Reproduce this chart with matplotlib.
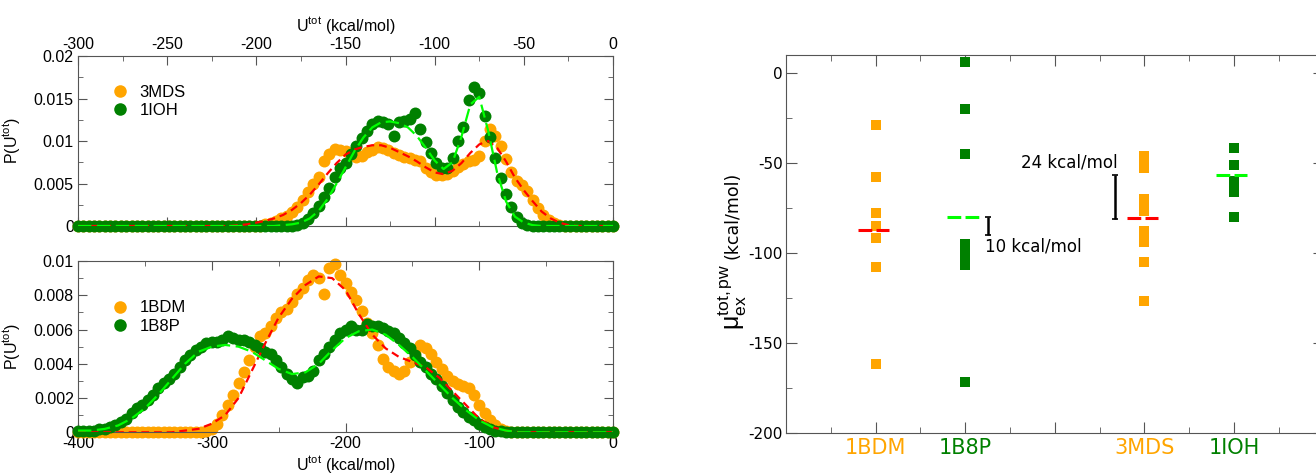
import numpy as np
import matplotlib
matplotlib.use("Agg")
import matplotlib.pyplot as plt
from matplotlib.ticker import MultipleLocator, FormatStrFormatter

plt.rcParams["axes.unicode_minus"] = False
plt.rcParams["mathtext.fontset"] = "custom"
plt.rcParams["mathtext.rm"] = "Liberation Sans"
plt.rcParams["mathtext.it"] = "Liberation Sans:italic"

NARANJA = "#ffa500"
VERDE = "#008000"
LIMA = "#00ff00"
ROJO = "#ff0000"
GRIS = "#555555"

# ---- panel superior: 3MDS / 1IOH (paso 3 kcal/mol) ----
u_sup = np.arange(-300, 1, 3)
ini_3mds = -195
p_3mds = [0.0002, 0.0004, 0.0006, 0.0009, 0.0012, 0.0016, 0.0022, 0.0031, 0.0040,
          0.0049, 0.0058, 0.0076, 0.0085, 0.0091, 0.0090, 0.0088, 0.0083, 0.0081,
          0.0082, 0.0087, 0.0090, 0.0093, 0.0092, 0.0089, 0.0086, 0.0083, 0.0081,
          0.0080, 0.0078, 0.0076, 0.0068, 0.0063, 0.0060, 0.0060, 0.0061, 0.0065,
          0.0069, 0.0073, 0.0076, 0.0078, 0.0082, 0.0100, 0.0114, 0.0106, 0.0094,
          0.0079, 0.0064, 0.0053, 0.0048, 0.0041, 0.0031, 0.0021, 0.0013, 0.0007,
          0.0003, 0.0001, 0.0]
ini_1ioh = -180
p_1ioh = [0.0, 0.0001, 0.0003, 0.0008, 0.0015, 0.0024, 0.0034, 0.0045, 0.0058,
          0.0068, 0.0074, 0.0085, 0.0094, 0.0103, 0.0112, 0.0120, 0.0123, 0.0122,
          0.0120, 0.0106, 0.0122, 0.0124, 0.0126, 0.0133, 0.0114, 0.0099, 0.0086,
          0.0074, 0.0068, 0.0068, 0.0080, 0.0100, 0.0117, 0.0148, 0.0164, 0.0156,
          0.0129, 0.0105, 0.0080, 0.0056, 0.0038, 0.0022, 0.0011, 0.0004, 0.0001, 0.0]

# ajustes (paso 5)
u_fit_sup = np.arange(-300, 1, 5)
ini_fit_3mds = -210
fit_3mds = [0.0001, 0.0002, 0.0004, 0.0006, 0.0009, 0.0013, 0.0019, 0.0027, 0.0037,
            0.0049, 0.0062, 0.0074, 0.0084, 0.0090, 0.0093, 0.0095, 0.0095, 0.0092,
            0.0087, 0.0082, 0.0076, 0.0069, 0.0063, 0.0061, 0.0065, 0.0074, 0.0086,
            0.0096, 0.0100, 0.0092, 0.0076, 0.0057, 0.0042, 0.0029, 0.0017, 0.0009,
            0.0004, 0.0001, 0.0]
ini_fit_1ioh = -190
fit_1ioh = [0.0, 0.0001, 0.0002, 0.0004, 0.0009, 0.0018, 0.0032, 0.0050, 0.0069,
            0.0088, 0.0104, 0.0116, 0.0122, 0.0123, 0.0121, 0.0116, 0.0106, 0.0092,
            0.0077, 0.0067, 0.0075, 0.0105, 0.0143, 0.0152, 0.0112, 0.0063, 0.0029,
            0.0011, 0.0004, 0.0001, 0.0]

# ---- panel inferior: 1BDM / 1B8P (paso 4 kcal/mol) ----
u_inf = np.arange(-400, 1, 4)
ini_1bdm = -304
p_1bdm = [0.0001, 0.0002, 0.0005, 0.0010, 0.0016, 0.0022, 0.0029, 0.0035, 0.0042,
          0.0050, 0.0056, 0.0058, 0.0062, 0.0067, 0.0070, 0.0072, 0.0076, 0.0081,
          0.0084, 0.0089, 0.0092, 0.0090, 0.0081, 0.0096, 0.0098, 0.0092, 0.0087,
          0.0082, 0.0077, 0.0071, 0.0064, 0.0058, 0.0051, 0.0043, 0.0038, 0.0036,
          0.0034, 0.0036, 0.0041, 0.0047, 0.0051, 0.0049, 0.0046, 0.0041, 0.0037,
          0.0033, 0.0030, 0.0028, 0.0027, 0.0026, 0.0022, 0.0016, 0.0011, 0.0007,
          0.0004, 0.0002, 0.0001, 0.0]
ini_1b8p = -400
p_1b8p = [0.0001, 0.0001, 0.0001, 0.0001, 0.0002, 0.0002, 0.0003, 0.0004, 0.0006,
          0.0008, 0.0011, 0.0014, 0.0016, 0.0019, 0.0022, 0.0026, 0.0029, 0.0031,
          0.0034, 0.0038, 0.0042, 0.0045, 0.0048, 0.0050, 0.0052, 0.0053, 0.0053,
          0.0054, 0.0056, 0.0055, 0.0054, 0.0054, 0.0053, 0.0051, 0.0049, 0.0047,
          0.0046, 0.0042, 0.0038, 0.0034, 0.0031, 0.0029, 0.0032, 0.0033, 0.0036,
          0.0042, 0.0046, 0.0050, 0.0054, 0.0058, 0.0060, 0.0062, 0.0060, 0.0060,
          0.0063, 0.0062, 0.0062, 0.0061, 0.0059, 0.0058, 0.0055, 0.0052, 0.0049,
          0.0045, 0.0041, 0.0038, 0.0034, 0.0031, 0.0027, 0.0023, 0.0019, 0.0015,
          0.0012, 0.0009, 0.0007, 0.0005, 0.0003, 0.0002, 0.0001, 0.0001, 0.0]

# ajustes (paso 10)
u_fit_inf = np.arange(-400, 1, 10)
ini_fit_1bdm = -330
fit_1bdm = [0.0, 0.0001, 0.0002, 0.0005, 0.0010, 0.0020, 0.0036, 0.0052, 0.0067,
            0.0078, 0.0086, 0.0091, 0.0090, 0.0083, 0.0069, 0.0057, 0.0049, 0.0044,
            0.0041, 0.0038, 0.0032, 0.0024, 0.0016, 0.0008, 0.0003, 0.0001, 0.0]
ini_fit_1b8p = -400
fit_1b8p = [0.0001, 0.0001, 0.0002, 0.0004, 0.0008, 0.0014, 0.0022, 0.0031, 0.0040,
            0.0047, 0.0050, 0.0051, 0.0050, 0.0047, 0.0042, 0.0037, 0.0034, 0.0035,
            0.0040, 0.0048, 0.0055, 0.0059, 0.0060, 0.0057, 0.0051, 0.0044, 0.0036,
            0.0028, 0.0020, 0.0013, 0.0007, 0.0003, 0.0001, 0.0]

# ---- panel derecho: mu_ex por sistema ----
cat_pos = [2, 4, 8, 10]
cat_nombres = ["1BDM", "1B8P", "3MDS", "1IOH"]
cat_colores = [NARANJA, VERDE, NARANJA, VERDE]
mu_1bdm = [-29, -58, -78, -85, -92, -108, -162]
mu_1b8p = [6, -20, -45, -95, -99, -103, -107, -172]
mu_3mds = [-46, -50, -53, -70, -74, -77, -88, -92, -94, -105, -127]
mu_1ioh = [-42, -51, -60, -63, -66, -80]
medias = [-87.5, -80, -80.5, -57]
medias_colores = [ROJO, LIMA, ROJO, LIMA]
difs = [(4.5, -80, -90, "10 kcal/mol"), (7.35, -57, -81, "24 kcal/mol")]


def rellenar(rejilla, inicio, valores):
    y = np.zeros(len(rejilla))
    i = int(np.argmin(np.abs(rejilla - inicio)))
    y[i:i + len(valores)] = valores
    return y


def estilo_izq(ax):
    for s in ax.spines.values():
        s.set_color(GRIS)
    ax.tick_params(which="both", direction="in", top=True, right=True,
                   color=GRIS, labelsize=11.5, pad=3)
    ax.tick_params(which="major", length=6.5)
    ax.tick_params(which="minor", length=3.5)
    ax.xaxis.set_major_formatter(FormatStrFormatter("%g"))
    ax.yaxis.set_major_formatter(FormatStrFormatter("%g"))


fig = plt.figure(figsize=(13.16, 4.75), dpi=100)
fuente = "Liberation Sans"
ms_pt = 8.6

# panel superior
ax1 = fig.add_axes([0.0593, 0.5242, 0.4065, 0.3579])
ax1.plot(u_sup, rellenar(u_sup, ini_3mds, p_3mds), "o", color=NARANJA, ms=ms_pt,
         mew=0, clip_on=False, label="3MDS", zorder=2)
ax1.plot(u_sup, rellenar(u_sup, ini_1ioh, p_1ioh), "o", color=VERDE, ms=ms_pt,
         mew=0, clip_on=False, label="1IOH", zorder=3)
ax1.plot(u_fit_sup, rellenar(u_fit_sup, ini_fit_3mds, fit_3mds), color=ROJO,
         lw=1.6, ls=(0, (3.5, 2.2)), zorder=4)
ax1.plot(u_fit_sup, rellenar(u_fit_sup, ini_fit_1ioh, fit_1ioh), color=LIMA,
         lw=1.6, ls=(0, (6, 2.5)), zorder=5)
ax1.set_xlim(-300, 0)
ax1.set_ylim(0, 0.02)
ax1.xaxis.set_major_locator(MultipleLocator(50))
ax1.xaxis.set_minor_locator(MultipleLocator(25))
ax1.yaxis.set_major_locator(MultipleLocator(0.005))
ax1.yaxis.set_minor_locator(MultipleLocator(0.0025))
estilo_izq(ax1)
ax1.tick_params(labeltop=True, labelbottom=False)
for t in ax1.get_xticklabels() + ax1.get_yticklabels():
    t.set_family(fuente)
ax1.set_xlabel(r"U$^{\rm tot}$ (kcal/mol)", fontsize=11.5, family=fuente)
ax1.xaxis.set_label_position("top")
ax1.xaxis.set_label_coords(0.5, 1.18)
ax1.xaxis.label.set_va("center")
ax1.set_ylabel(r"P(U$^{\rm tot}$)", fontsize=11.5, family=fuente)
ax1.yaxis.set_label_coords(-0.104, 0.5)
ax1.legend(loc="upper left", bbox_to_anchor=(0.062, 0.83), frameon=False,
           numpoints=1, handlelength=1.0, handletextpad=0.7, borderpad=0,
           borderaxespad=0, labelspacing=0.2, markerscale=1.05,
           prop={"family": fuente, "size": 12})

# panel inferior
ax2 = fig.add_axes([0.0593, 0.0899, 0.4065, 0.3606])
ax2.plot(u_inf, rellenar(u_inf, ini_1bdm, p_1bdm), "o", color=NARANJA, ms=ms_pt,
         mew=0, clip_on=False, label="1BDM", zorder=2)
ax2.plot(u_inf, rellenar(u_inf, ini_1b8p, p_1b8p), "o", color=VERDE, ms=ms_pt,
         mew=0, clip_on=False, label="1B8P", zorder=3)
ax2.plot(u_fit_inf, rellenar(u_fit_inf, ini_fit_1bdm, fit_1bdm), color=ROJO,
         lw=1.6, ls=(0, (3.5, 2.2)), zorder=4)
ax2.plot(u_fit_inf, rellenar(u_fit_inf, ini_fit_1b8p, fit_1b8p), color=LIMA,
         lw=1.6, ls=(0, (6, 2.5)), zorder=5)
ax2.set_xlim(-400, 0)
ax2.set_ylim(0, 0.01)
ax2.xaxis.set_major_locator(MultipleLocator(100))
ax2.xaxis.set_minor_locator(MultipleLocator(50))
ax2.yaxis.set_major_locator(MultipleLocator(0.002))
ax2.yaxis.set_minor_locator(MultipleLocator(0.001))
estilo_izq(ax2)
for t in ax2.get_xticklabels() + ax2.get_yticklabels():
    t.set_family(fuente)
ax2.set_xlabel(r"U$^{\rm tot}$ (kcal/mol)", fontsize=11.5, family=fuente)
ax2.xaxis.set_label_coords(0.5, -0.19)
ax2.xaxis.label.set_va("center")
ax2.set_ylabel(r"P(U$^{\rm tot}$)", fontsize=11.5, family=fuente)
ax2.yaxis.set_label_coords(-0.104, 0.5)
ax2.legend(loc="upper left", bbox_to_anchor=(0.062, 0.77), frameon=False,
           numpoints=1, handlelength=1.0, handletextpad=0.7, borderpad=0,
           borderaxespad=0, labelspacing=0.2, markerscale=1.05,
           prop={"family": fuente, "size": 12})

# panel derecho
ax3 = fig.add_axes([0.5973, 0.0891, 0.4085, 0.7952])
for x, vals, c in zip(cat_pos, [mu_1bdm, mu_1b8p, mu_3mds, mu_1ioh], cat_colores):
    ax3.plot([x] * len(vals), vals, "s", color=c, ms=7, mew=0, zorder=2)
for x, m, c in zip(cat_pos, medias, medias_colores):
    ax3.hlines(m, x - 0.4, x + 0.3, color=c, lw=2.2, ls=(0, (4.5, 1.4)), zorder=3)
for x, y1, y2, texto in difs:
    ax3.errorbar(x, (y1 + y2) / 2, yerr=abs(y1 - y2) / 2, color="black",
                 lw=1.8, capsize=2.5, capthick=1.2, fmt="none")
ax3.text(4.45, -96.7, difs[0][3], fontsize=12, va="center", ha="left")
ax3.text(7.4, -49.8, difs[1][3], fontsize=12, va="center", ha="right")
ax3.set_xlim(0, 12)
ax3.set_ylim(-200, 10)
ax3.xaxis.set_minor_locator(MultipleLocator(1))
ax3.yaxis.set_major_locator(MultipleLocator(50))
ax3.yaxis.set_minor_locator(MultipleLocator(25))
for s in ax3.spines.values():
    s.set_color(GRIS)
ax3.tick_params(which="both", direction="in", top=True, right=True, color=GRIS)
ax3.tick_params(axis="y", labelsize=11, pad=2.5)
ax3.tick_params(axis="x", pad=4)
ax3.tick_params(which="major", length=8)
ax3.tick_params(which="minor", length=4.3)
ax3.set_xticks([2, 4, 6, 8, 10])
ax3.set_xticklabels(["1BDM", "1B8P", "", "3MDS", "1IOH"], fontsize=15)
for t, c in zip([ax3.get_xticklabels()[i] for i in (0, 1, 3, 4)], cat_colores):
    t.set_color(c)
# etiqueta del eje y en dos partes (mu mas grande)
ax3.text(-0.099, 0.36, r"$\mathrm{\mu}_{\rm ex}^{\rm tot,pw}$", fontsize=18,
         rotation=90, ha="center", va="center", transform=ax3.transAxes)
ax3.text(-0.099, 0.575, "(kcal/mol)", fontsize=12.5, rotation=90,
         ha="center", va="center", transform=ax3.transAxes)

plt.savefig("out.png", dpi=100)
